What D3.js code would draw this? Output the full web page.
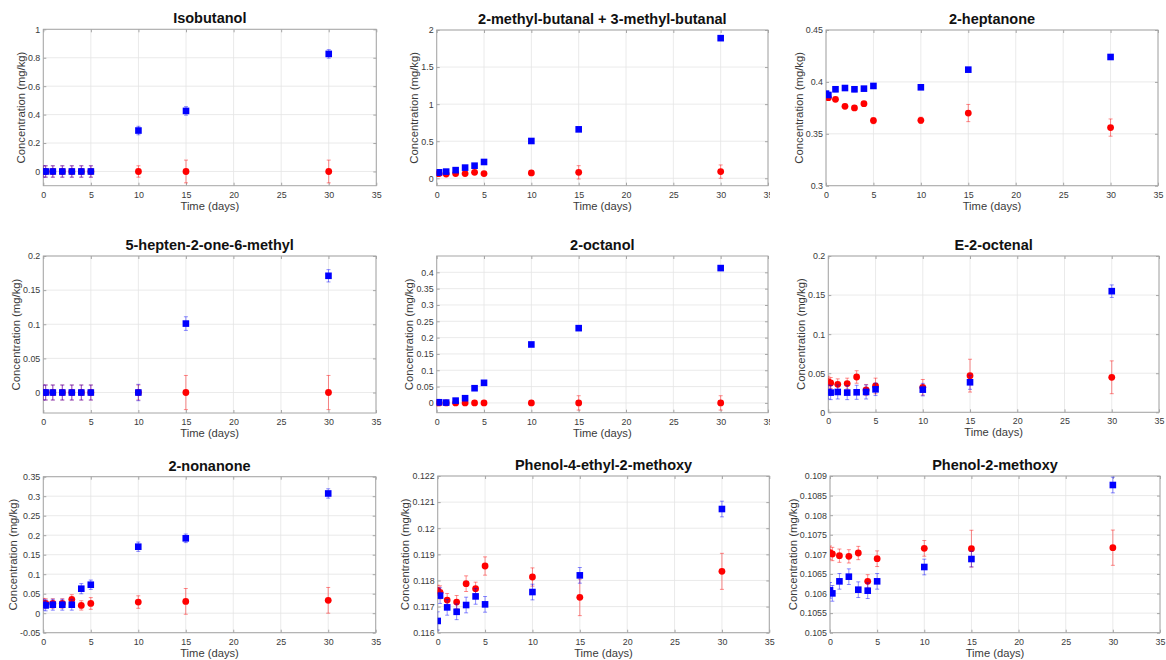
<!DOCTYPE html>
<html>
<head>
<meta charset="utf-8">
<script src="https://cdn.jsdelivr.net/npm/d3@7"></script>
<style>
  body { margin: 0; background: #fff; }
  svg { display: block; font-family: "Liberation Sans", Arial, sans-serif; }
</style>
</head>
<body>
<div id="chart"></div>
<script>
// sampling times (days), shared by every panel
const days = [0, 0.25, 1, 2, 3, 4, 5, 10, 15, 30];
const xTicks = [0, 5, 10, 15, 20, 25, 30, 35];

const isobutanolBlue = [0, 0, 0, 0, 0, 0, 0, 0.288, 0.426, 0.827];
const isobutanolBlueErr = [0.04, 0.04, 0.04, 0.04, 0.04, 0.04, 0.04, 0.03, 0.03, 0.03];
const isobutanolRed = [0, 0, 0, 0, 0, 0, 0, 0, 0, 0];
const isobutanolRedErr = [0.04, 0.04, 0.04, 0.04, 0.04, 0.04, 0.04, 0.04, 0.08, 0.08];
const isobutanolY = [-0.1, 1];
const isobutanolTicks = [0, 0.2, 0.4, 0.6, 0.8, 1];

const butanalBlue = [0.076, 0.08, 0.09, 0.11, 0.144, 0.17, 0.22, 0.503, 0.66, 1.89];
const butanalBlueErr = [0.015, 0.015, 0.015, 0.015, 0.02, 0.015, 0.015, 0.02, 0.015, 0.02];
const butanalRed = [0.063, 0.063, 0.058, 0.063, 0.063, 0.08, 0.063, 0.072, 0.08, 0.09];
const butanalRedErr = [0.02, 0.02, 0.02, 0.02, 0.02, 0.02, 0.02, 0.02, 0.09, 0.09];
const butanalY = [-0.1, 2];
const butanalTicks = [0, 0.5, 1, 1.5, 2];

const heptanoneBlue = [0.3887, 0.3874, 0.3929, 0.3941, 0.3929, 0.3935, 0.3961, 0.3948, 0.4118, 0.424];
const heptanoneBlueErr = [0.0015, 0.0015, 0.0025, 0.002, 0.0025, 0.002, 0.002, 0.002, 0.0015, 0.002];
const heptanoneRed = [0.3864, 0.3848, 0.3832, 0.3765, 0.3749, 0.379, 0.3627, 0.363, 0.37, 0.356];
const heptanoneRedErr = [0.0015, 0.0015, 0.002, 0.002, 0.0015, 0.002, 0.003, 0.003, 0.0083, 0.0083];
const heptanoneY = [0.3, 0.45];
const heptanoneTicks = [0.3, 0.35, 0.4, 0.45];

const heptenoneBlue = [0, 0, 0, 0, 0, 0, 0, 0, 0.101, 0.171];
const heptenoneBlueErr = [0.011, 0.011, 0.011, 0.011, 0.011, 0.011, 0.011, 0.012, 0.01, 0.009];
const heptenoneRed = [0, 0, 0, 0, 0, 0, 0, 0, 0, 0];
const heptenoneRedErr = [0.011, 0.011, 0.011, 0.011, 0.011, 0.011, 0.011, 0.011, 0.025, 0.025];
const heptenoneY = [-0.03, 0.2];
const heptenoneTicks = [0, 0.05, 0.1, 0.15, 0.2];

const octanolBlue = [0.002, 0.002, 0.001, 0.007, 0.0144, 0.045, 0.0615, 0.179, 0.229, 0.413];
const octanolBlueErr = [0.004, 0.004, 0.004, 0.004, 0.004, 0.004, 0.004, 0.005, 0.004, 0.005];
const octanolRed = [0, 0, 0, 0, 0, 0, 0, 0, 0, 0];
const octanolRedErr = [0.003, 0.003, 0.003, 0.003, 0.003, 0.003, 0.003, 0.005, 0.022, 0.022];
const octanolY = [-0.03, 0.45];
const octanolTicks = [0, 0.05, 0.1, 0.15, 0.2, 0.25, 0.3, 0.35, 0.4];

const octenalBlue = [0.026, 0.0252, 0.026, 0.0252, 0.0256, 0.026, 0.0294, 0.029, 0.0384, 0.155];
const octenalBlueErr = [0.009, 0.009, 0.009, 0.009, 0.009, 0.009, 0.008, 0.008, 0.009, 0.008];
const octenalRed = [0.0392, 0.0375, 0.0358, 0.0367, 0.0452, 0.0286, 0.0337, 0.032, 0.0469, 0.0448];
const octenalRedErr = [0.007, 0.007, 0.007, 0.007, 0.008, 0.007, 0.01, 0.01, 0.021, 0.021];
const octenalY = [0, 0.2];
const octenalTicks = [0, 0.05, 0.1, 0.15, 0.2];

const nonanoneBlue = [0.0218, 0.02, 0.0218, 0.0218, 0.0218, 0.0628, 0.073, 0.1705, 0.192, 0.307];
const nonanoneBlueErr = [0.014, 0.014, 0.014, 0.014, 0.014, 0.013, 0.012, 0.012, 0.011, 0.012];
const nonanoneRed = [0.026, 0.025, 0.025, 0.025, 0.0355, 0.02, 0.025, 0.0286, 0.0303, 0.033];
const nonanoneRedErr = [0.012, 0.012, 0.012, 0.012, 0.012, 0.012, 0.015, 0.016, 0.033, 0.033];
const nonanoneY = [-0.05, 0.35];
const nonanoneTicks = [-0.05, 0, 0.05, 0.1, 0.15, 0.2, 0.25, 0.3, 0.35];

const ethylPhenolBlue = [0.11645, 0.11742, 0.11697, 0.1168, 0.11706, 0.11739, 0.117085, 0.117557, 0.118196, 0.120736];
const ethylPhenolBlueErr = [0.00035, 0.0003, 0.0003, 0.0003, 0.0003, 0.0003, 0.0003, 0.0003, 0.0003, 0.0003];
const ethylPhenolRed = [0.117621, 0.117545, 0.117251, 0.117174, 0.117877, 0.117685, 0.118553, 0.118132, 0.117353, 0.118349];
const ethylPhenolRedErr = [0.0002, 0.00025, 0.00025, 0.00025, 0.0003, 0.00025, 0.00035, 0.00035, 0.0007, 0.00069];
const ethylPhenolY = [0.116, 0.122];
const ethylPhenolTicks = [0.116, 0.117, 0.118, 0.119, 0.12, 0.121, 0.122];

const guaiacolBlue = [0.106081, 0.106004, 0.106311, 0.10643, 0.106098, 0.106072, 0.106311, 0.106677, 0.106881, 0.10877];
const guaiacolBlueErr = [0.0002, 0.0002, 0.0002, 0.0002, 0.0002, 0.0002, 0.0002, 0.0002, 0.0002, 0.0002];
const guaiacolRed = [0.107043, 0.107009, 0.106966, 0.106949, 0.107034, 0.106311, 0.106889, 0.107153, 0.107145, 0.10717];
const guaiacolRedErr = [0.00017, 0.00017, 0.00017, 0.00017, 0.00017, 0.00017, 0.0002, 0.0002, 0.00047, 0.00045];
const guaiacolY = [0.105, 0.109];
const guaiacolTicks = [0.105, 0.1055, 0.106, 0.1065, 0.107, 0.1075, 0.108, 0.1085, 0.109];

// plot box of each panel: [left, top, right, bottom]; cut = right edge where the image was cropped
const panels = [
  { title: "Isobutanol", blue: isobutanolBlue, blueErr: isobutanolBlueErr, red: isobutanolRed, redErr: isobutanolRedErr, yDomain: isobutanolY, yTicks: isobutanolTicks, box: [43.3, 29.3, 376.3, 185.7] },
  { title: "2-methyl-butanal + 3-methyl-butanal", blue: butanalBlue, blueErr: butanalBlueErr, red: butanalRed, redErr: butanalRedErr, yDomain: butanalY, yTicks: butanalTicks, box: [436.7, 30, 768, 185.7], cut: 770 },
  { title: "2-heptanone", blue: heptanoneBlue, blueErr: heptanoneBlueErr, red: heptanoneRed, redErr: heptanoneRedErr, yDomain: heptanoneY, yTicks: heptanoneTicks, box: [826, 30, 1158, 185.7] },
  { title: "5-hepten-2-one-6-methyl", blue: heptenoneBlue, blueErr: heptenoneBlueErr, red: heptenoneRed, redErr: heptenoneRedErr, yDomain: heptenoneY, yTicks: heptenoneTicks, box: [43.3, 256, 376, 413] },
  { title: "2-octanol", blue: octanolBlue, blueErr: octanolBlueErr, red: octanolRed, redErr: octanolRedErr, yDomain: octanolY, yTicks: octanolTicks, box: [436.7, 256, 768, 412.7], cut: 770 },
  { title: "E-2-octenal", blue: octenalBlue, blueErr: octenalBlueErr, red: octenalRed, redErr: octenalRedErr, yDomain: octenalY, yTicks: octenalTicks, box: [828.3, 256, 1159, 412.3] },
  { title: "2-nonanone", blue: nonanoneBlue, blueErr: nonanoneBlueErr, red: nonanoneRed, redErr: nonanoneRedErr, yDomain: nonanoneY, yTicks: nonanoneTicks, box: [43.3, 476.7, 375.7, 632.7] },
  { title: "Phenol-4-ethyl-2-methoxy", blue: ethylPhenolBlue, blueErr: ethylPhenolBlueErr, red: ethylPhenolRed, redErr: ethylPhenolRedErr, yDomain: ethylPhenolY, yTicks: ethylPhenolTicks, box: [437.7, 476, 769.3, 632.7] },
  { title: "Phenol-2-methoxy", blue: guaiacolBlue, blueErr: guaiacolBlueErr, red: guaiacolRed, redErr: guaiacolRedErr, yDomain: guaiacolY, yTicks: guaiacolTicks, box: [830, 476, 1160, 632.7] }
];

const boxColor = "#a6a6a6";
const gridColor = "#e4e4e4";
const textColor = "#3a3a3a";
const fmt = v => String(+v.toFixed(6));

const svg = d3.select("#chart").append("svg")
  .attr("width", 1166)
  .attr("height", 660);

panels.forEach((p, i) => {
  const [x0, y0, x1, y1] = p.box;
  const g = svg.append("g");

  if (p.cut) {
    svg.append("clipPath").attr("id", "cut" + i)
      .append("rect").attr("x", x0 - 60).attr("y", y0 - 40).attr("width", p.cut - x0 + 60).attr("height", y1 - y0 + 80);
    g.attr("clip-path", `url(#cut${i})`);
  }
  svg.append("clipPath").attr("id", "plot" + i)
    .append("rect").attr("x", x0).attr("y", y0).attr("width", x1 - x0).attr("height", y1 - y0);

  const x = d3.scaleLinear().domain([0, 35]).range([x0, x1]);
  const y = d3.scaleLinear().domain(p.yDomain).range([y1, y0]);

  // grid
  g.append("g").selectAll("line").data(xTicks).join("line")
    .attr("x1", d => x(d)).attr("x2", d => x(d))
    .attr("y1", y0).attr("y2", y1)
    .attr("stroke", gridColor).attr("stroke-width", 0.8);
  g.append("g").selectAll("line").data(p.yTicks).join("line")
    .attr("x1", x0).attr("x2", x1)
    .attr("y1", d => y(d)).attr("y2", d => y(d))
    .attr("stroke", gridColor).attr("stroke-width", 0.8);

  // axes, ticks pointing inwards
  g.append("g").attr("transform", `translate(0,${y1})`)
    .call(d3.axisBottom(x).tickValues(xTicks).tickSize(-3).tickPadding(5.6).tickFormat(fmt));
  const left = g.append("g").attr("transform", `translate(${x0},0)`)
    .call(d3.axisLeft(y).tickValues(p.yTicks).tickSize(-3).tickPadding(3).tickFormat(fmt));
  g.append("g").attr("transform", `translate(0,${y0})`)
    .call(d3.axisTop(x).tickValues(xTicks).tickSize(-3).tickFormat(""));
  g.append("g").attr("transform", `translate(${x1},0)`)
    .call(d3.axisRight(y).tickValues(p.yTicks).tickSize(-3).tickFormat(""));

  g.selectAll(".domain").remove();
  g.selectAll(".tick line").attr("stroke", boxColor);
  g.selectAll(".tick text")
    .attr("fill", textColor)
    .attr("font-size", 8.9)
    .attr("font-family", "'Liberation Sans', Arial, sans-serif");

  g.append("rect")
    .attr("x", x0).attr("y", y0)
    .attr("width", x1 - x0).attr("height", y1 - y0)
    .attr("fill", "none").attr("stroke", boxColor).attr("stroke-width", 1);

  // data: red series first, blue drawn on top
  const plot = g.append("g").attr("clip-path", `url(#plot${i})`);
  const series = [
    { vals: p.red, errs: p.redErr, color: "#ff0000", shape: "circle" },
    { vals: p.blue, errs: p.blueErr, color: "#0000ff", shape: "square" }
  ];
  series.forEach(s => {
    const pts = days.map((d, k) => ({ t: d, v: s.vals[k], e: s.errs[k] }));
    const eb = plot.append("g")
      .attr("stroke", s.color).attr("stroke-opacity", 0.5).attr("stroke-width", 0.9);
    eb.selectAll(".bar").data(pts).join("line").attr("class", "bar")
      .attr("x1", d => x(d.t)).attr("x2", d => x(d.t))
      .attr("y1", d => y(d.v - d.e)).attr("y2", d => y(d.v + d.e));
    eb.selectAll(".capTop").data(pts).join("line").attr("class", "capTop")
      .attr("x1", d => x(d.t) - 2).attr("x2", d => x(d.t) + 2)
      .attr("y1", d => y(d.v + d.e)).attr("y2", d => y(d.v + d.e));
    eb.selectAll(".capBot").data(pts).join("line").attr("class", "capBot")
      .attr("x1", d => x(d.t) - 2).attr("x2", d => x(d.t) + 2)
      .attr("y1", d => y(d.v - d.e)).attr("y2", d => y(d.v - d.e));

    if (s.shape === "circle") {
      plot.append("g").selectAll("circle").data(pts).join("circle")
        .attr("cx", d => x(d.t)).attr("cy", d => y(d.v)).attr("r", 3.4)
        .attr("fill", s.color);
    } else {
      plot.append("g").selectAll("rect").data(pts).join("rect")
        .attr("x", d => x(d.t) - 3.3).attr("y", d => y(d.v) - 3.3)
        .attr("width", 6.6).attr("height", 6.6)
        .attr("fill", s.color);
    }
  });

  // labels
  g.append("text")
    .attr("x", (x0 + x1) / 2).attr("y", y0 - 6)
    .attr("text-anchor", "middle")
    .attr("font-size", 14.5).attr("font-weight", "bold").attr("fill", "#111")
    .text(p.title);

  g.append("text")
    .attr("x", (x0 + x1) / 2).attr("y", y1 + 24)
    .attr("text-anchor", "middle")
    .attr("font-size", 11.2).attr("fill", textColor)
    .text("Time (days)");

  const maxW = d3.max(left.selectAll(".tick text").nodes(), n => n.getBBox().width);
  g.append("text")
    .attr("transform", `translate(${x0 - 3 - maxW - 3},${(y0 + y1) / 2}) rotate(-90)`)
    .attr("text-anchor", "middle")
    .attr("font-size", 11.3).attr("fill", textColor)
    .text("Concentration (mg/kg)");
});
</script>
</body>
</html>
